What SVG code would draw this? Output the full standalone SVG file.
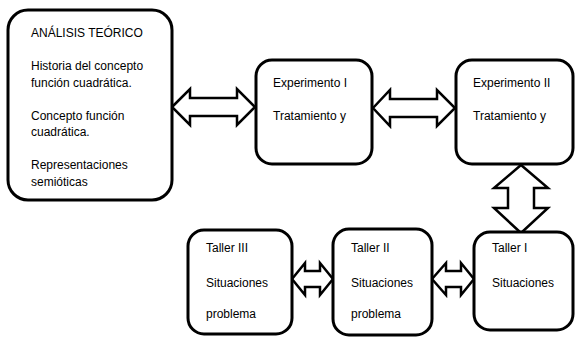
<svg xmlns="http://www.w3.org/2000/svg" width="575" height="337" viewBox="0 0 575 337">
<style>
.box{fill:#fff;stroke:#000;stroke-width:3}
.arr{fill:#fff;stroke:#000;stroke-width:2.5;stroke-linejoin:miter}
text{font-family:"Liberation Sans",Arial,sans-serif;font-size:12px;fill:#000}
</style>
<rect width="575" height="337" fill="#fff"/>
<g id="connectors">
<polygon class="arr" points="172,107 190,89 190,98 237,98 237,89 255,107 237,125 237,116 190,116 190,125"/>
<polygon class="arr" points="373,108 390,90 390,99 437,99 437,90 455,108 437,126 437,117 390,117 390,126"/>
<polygon class="arr" points="521,165 548,188 534,188 534,208 548,208 521,233 494,208 508,208 508,188 494,188"/>
<polygon class="arr" points="292,279 305,263 305,271 320,271 320,263 333,279 320,295 320,287 305,287 305,295"/>
<polygon class="arr" points="432,279 446,263 446,271 461,271 461,263 474,279 461,295 461,287 446,287 446,295"/>
</g>
<g id="analisis">
<rect class="box" x="8" y="10" width="164" height="190" rx="20"/>
<text x="31" y="37">ANÁLISIS TEÓRICO</text>
<text x="31" y="70">Historia del concepto</text>
<text x="31" y="86.5">función cuadrática.</text>
<text x="31" y="119.5">Concepto función</text>
<text x="31" y="136">cuadrática.</text>
<text x="31" y="169">Representaciones</text>
<text x="31" y="185.5">semióticas</text>
</g>
<g id="exp1">
<rect class="box" x="256" y="60" width="116" height="104" rx="16"/>
<text x="273" y="87">Experimento I</text>
<text x="273" y="120">Tratamiento y</text>
</g>
<g id="exp2">
<rect class="box" x="456" y="60" width="117" height="104" rx="16"/>
<text x="473" y="87">Experimento II</text>
<text x="473" y="120">Tratamiento y</text>
</g>
<g id="taller3">
<rect class="box" x="188" y="230" width="104" height="104" rx="16"/>
<text x="206" y="252">Taller III</text>
<text x="206" y="287">Situaciones</text>
<text x="206" y="318">problema</text>
</g>
<g id="taller2">
<rect class="box" x="333" y="229" width="99" height="106" rx="16"/>
<text x="351" y="252">Taller II</text>
<text x="351" y="287">Situaciones</text>
<text x="351" y="318">problema</text>
</g>
<g id="taller1">
<rect class="box" x="474" y="232" width="99" height="98" rx="16"/>
<text x="492" y="252">Taller I</text>
<text x="492" y="287">Situaciones</text>
</g>
</svg>
